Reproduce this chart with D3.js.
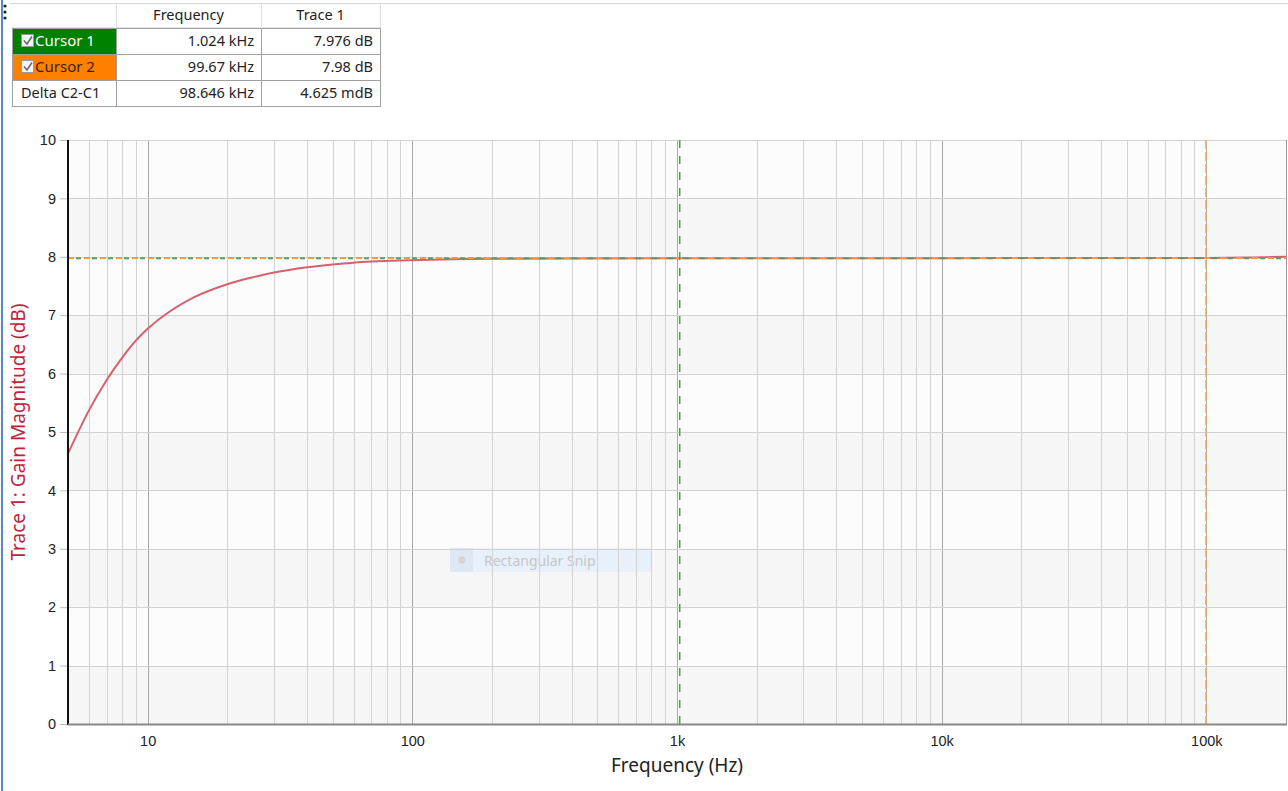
<!DOCTYPE html>
<html>
<head>
<meta charset="utf-8">
<script src="https://cdn.jsdelivr.net/npm/d3@7"></script>
<style>
  html, body { margin: 0; padding: 0; background: #fff; }
  svg { display: block; font-family: "Segoe UI", "Noto Sans", "Open Sans", sans-serif; }
</style>
</head>
<body>
<svg id="chart" width="1288" height="791"></svg>
<script>
// ---- data ----
const freqHz = [5, 6, 7, 8, 9, 10, 12, 15, 20, 25, 30, 40, 50, 60, 90, 130, 200, 400, 1000, 3000, 10000, 30000, 100000, 150000, 200000];
const gainDb = [4.63, 5.37, 5.89, 6.27, 6.56, 6.77, 7.05, 7.31, 7.53, 7.65, 7.73, 7.82, 7.87, 7.90, 7.935, 7.955, 7.966, 7.972, 7.976, 7.977, 7.977, 7.978, 7.98, 7.99, 8.0];
const xTickValues = [10, 100, 1000, 10000, 100000];
const xTickLabels = ["10", "100", "1k", "10k", "100k"];
const yTickValues = [0, 1, 2, 3, 4, 5, 6, 7, 8, 9, 10];
const cursorNames = ["Cursor 1", "Cursor 2"];
const cursorFreq = [1024, 99670];
const cursorGain = [7.976, 7.98];
const tableHeader = ["", "Frequency", "Trace 1"];
const tableRows = [
  ["Cursor 1", "1.024 kHz", "7.976 dB"],
  ["Cursor 2", "99.67 kHz", "7.98 dB"],
  ["Delta C2-C1", "98.646 kHz", "4.625 mdB"]
];

// ---- layout ----
const svg = d3.select("#chart");
const L = 68, R = 1286, T = 140, B = 724;
const x = d3.scaleLog().domain([5, 200000]).range([L, R]);
const y = d3.scaleLinear().domain([0, 10]).range([B, T]);

// outer frame decorations
svg.append("line").attr("x1", 2).attr("x2", 2).attr("y1", 0).attr("y2", 791)
  .attr("stroke", "#1f5fae").attr("stroke-width", 1.5);
svg.append("line").attr("x1", 10).attr("x2", 1288).attr("y1", 3.5).attr("y2", 3.5)
  .attr("stroke", "#d8d8d8").attr("stroke-width", 1);
[6, 12, 18].forEach(cy => svg.append("circle").attr("cx", 5).attr("cy", cy).attr("r", 1.6).attr("fill", "#222"));

// ---- table ----
const colX = [12, 116, 261, 380];
const rowY = [3, 28, 54, 80, 106];
const tbl = svg.append("g");
tableHeader.forEach((h, i) => {
  if (i > 0) {
    tbl.append("line").attr("x1", colX[i] + 0.5).attr("x2", colX[i] + 0.5).attr("y1", rowY[0]).attr("y2", rowY[1])
      .attr("stroke", "#e0e0e0");
    tbl.append("text").attr("x", (colX[i] + colX[i + 1]) / 2).attr("y", rowY[0] + 17)
      .attr("text-anchor", "middle").attr("font-size", 14.5).attr("fill", "#222").text(h);
  }
});
tbl.append("line").attr("x1", colX[3] + 0.5).attr("x2", colX[3] + 0.5).attr("y1", rowY[0]).attr("y2", rowY[1]).attr("stroke", "#e0e0e0");
tbl.append("line").attr("x1", colX[0]).attr("x2", colX[3]).attr("y1", rowY[1] - 0.5).attr("y2", rowY[1] - 0.5).attr("stroke", "#e6e6e6");
const rowFill = ["#008000", "#ff8000", "#ffffff"];
const rowText = ["#ffffff", "#3a2000", "#222"];
tableRows.forEach((row, r) => {
  const y0 = rowY[r + 1], y1 = rowY[r + 2];
  tbl.append("rect").attr("x", colX[0] + 0.5).attr("y", y0 + 0.5).attr("width", colX[1] - colX[0]).attr("height", y1 - y0)
    .attr("fill", rowFill[r]).attr("stroke", "#a0a0a0");
  for (let c = 1; c < 3; c++) {
    tbl.append("rect").attr("x", colX[c] + 0.5).attr("y", y0 + 0.5).attr("width", colX[c + 1] - colX[c]).attr("height", y1 - y0)
      .attr("fill", "#fff").attr("stroke", "#a0a0a0");
    tbl.append("text").attr("x", colX[c + 1] - 7).attr("y", y0 + 18).attr("text-anchor", "end")
      .attr("font-size", 14.5).attr("fill", "#222").text(row[c]);
  }
  if (r < 2) {
    tbl.append("rect").attr("x", 21.5).attr("y", y0 + 6.5).attr("width", 12).attr("height", 12)
      .attr("fill", "#f4f4f4").attr("stroke", "#9a9a9a");
    tbl.append("path").attr("d", `M24,${y0 + 12.5} L27,${y0 + 16} L32,${y0 + 8.5}`)
      .attr("fill", "none").attr("stroke", "#666").attr("stroke-width", 1.5);
    tbl.append("text").attr("x", 35).attr("y", y0 + 18).attr("font-size", 15).attr("fill", rowText[r]).text(row[0]);
  } else {
    tbl.append("text").attr("x", 21).attr("y", y0 + 18).attr("font-size", 14.5).attr("fill", rowText[r]).text(row[0]);
  }
});

// ---- plot background bands ----
const g = svg.append("g");
d3.range(0, 10).forEach(v => {
  g.append("rect").attr("x", L).attr("y", y(v + 1)).attr("width", R - L).attr("height", y(v) - y(v + 1))
    .attr("fill", v % 2 === 0 ? "#f6f6f6" : "#fcfcfc");
});

// watermark (Rectangular Snip)
const wm = svg.append("g");
wm.append("rect").attr("x", 450).attr("y", 548).attr("width", 202).attr("height", 24).attr("fill", "#e8f1fb");
wm.append("rect").attr("x", 450).attr("y", 548).attr("width", 23).attr("height", 24).attr("fill", "#dde8f4");
wm.append("circle").attr("cx", 462).attr("cy", 560).attr("r", 3.5).attr("fill", "#d4d4d4");
wm.append("text").attr("x", 484).attr("y", 566).attr("font-size", 14).attr("fill", "#c6c6c6").text("Rectangular Snip");

// grid
const minorTicks = [];
for (let d = 1; d <= 100000; d *= 10) for (let m = 1; m <= 9; m++) { const v = d * m; if (v >= 5 && v <= 200000) minorTicks.push(v); }
const grid = svg.append("g");
grid.selectAll(".vminor").data(minorTicks.filter(v => !xTickValues.includes(v))).join("line")
  .attr("x1", d => Math.round(x(d)) + 0.5).attr("x2", d => Math.round(x(d)) + 0.5).attr("y1", T).attr("y2", B)
  .attr("stroke", "#d2d2d2").attr("stroke-width", 1);
grid.selectAll(".vmajor").data(xTickValues).join("line")
  .attr("x1", d => Math.round(x(d)) + 0.5).attr("x2", d => Math.round(x(d)) + 0.5).attr("y1", T).attr("y2", B)
  .attr("stroke", "#a8a8a8").attr("stroke-width", 1);
grid.selectAll(".hgrid").data(yTickValues).join("line")
  .attr("x1", L).attr("x2", R).attr("y1", d => Math.round(y(d)) + 0.5).attr("y2", d => Math.round(y(d)) + 0.5)
  .attr("stroke", "#d2d2d2").attr("stroke-width", 1);

svg.append("line").attr("x1", R + 0.5).attr("x2", R + 0.5).attr("y1", T).attr("y2", B).attr("stroke", "#9a9a9a");

// ---- curve ----
const line = d3.line().x((d, i) => x(freqHz[i])).y(d => y(d)).curve(d3.curveCatmullRom.alpha(0.5));
svg.append("path").datum(gainDb).attr("d", line).attr("fill", "none")
  .attr("stroke", "#d8606e").attr("stroke-width", 2);

// ---- cursors ----
svg.append("line").attr("x1", L).attr("x2", R).attr("y1", y(cursorGain[1])).attr("y2", y(cursorGain[1]))
  .attr("stroke", "#f39a3c").attr("stroke-width", 2).attr("stroke-dasharray", "6,10");
svg.append("line").attr("x1", L).attr("x2", R).attr("y1", y(cursorGain[0])).attr("y2", y(cursorGain[0]))
  .attr("stroke", "#5a9e5a").attr("stroke-width", 2).attr("stroke-dasharray", "5,11").attr("stroke-dashoffset", -8);
svg.append("line").attr("x1", x(cursorFreq[0])).attr("x2", x(cursorFreq[0])).attr("y1", T).attr("y2", B)
  .attr("stroke", "#4f9d4f").attr("stroke-width", 1.5).attr("stroke-dasharray", "8,8");
svg.append("line").attr("x1", x(cursorFreq[1])).attr("x2", x(cursorFreq[1])).attr("y1", T).attr("y2", B)
  .attr("stroke", "#f2a65a").attr("stroke-width", 1.5).attr("stroke-dasharray", "9,3");

// ---- axes ----
const yAxis = svg.append("g").attr("transform", `translate(${L},0)`)
  .call(d3.axisLeft(y).tickValues(yTickValues).tickSize(8).tickPadding(4).tickFormat(d3.format("d")));
yAxis.select(".domain").remove();
yAxis.selectAll(".tick line").attr("stroke", "#bdbdbd");
yAxis.selectAll(".tick text").attr("font-size", 14.5).attr("fill", "#222").attr("font-family", "inherit");
svg.append("line").attr("x1", L).attr("x2", L).attr("y1", T).attr("y2", B + 1).attr("stroke", "#111").attr("stroke-width", 2);

const xAxis = svg.append("g").attr("transform", `translate(0,${B})`)
  .call(d3.axisBottom(x).tickValues(xTickValues).tickSize(0).tickPadding(12).tickFormat((d, i) => xTickLabels[i]));
xAxis.select(".domain").remove();
xAxis.selectAll(".tick text").attr("font-size", 14.5).attr("fill", "#222").attr("font-family", "inherit");
svg.append("line").attr("x1", L).attr("x2", R + 1).attr("y1", B + 0.5).attr("y2", B + 0.5).attr("stroke", "#888").attr("stroke-width", 2);

svg.append("text").attr("x", 677).attr("y", 772).attr("text-anchor", "middle").attr("font-size", 19)
  .attr("fill", "#222").text("Frequency (Hz)");
svg.append("text").attr("transform", "translate(25,432) rotate(-90)").attr("text-anchor", "middle")
  .attr("font-size", 19).attr("fill", "#c21f3a").text("Trace 1: Gain Magnitude (dB)");
</script>
</body>
</html>
